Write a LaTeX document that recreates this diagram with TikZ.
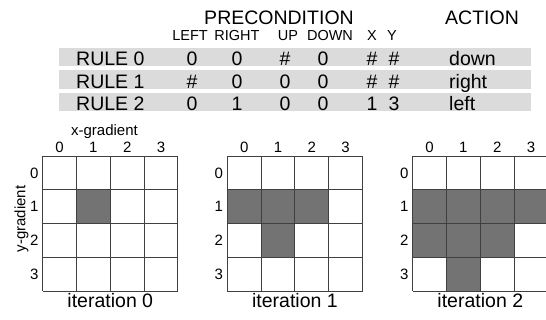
\documentclass[tikz,border=0pt]{standalone}
\usepackage{fontspec}
\setmainfont{Liberation Sans}
\begin{document}
\begin{tikzpicture}[x=1pt,y=-1pt,
  band/.style={fill=black!14},
  big/.style={inner sep=0pt,anchor=base,font=\fontsize{19.5}{21}\selectfont},
  sub/.style={inner sep=0pt,anchor=base,font=\fontsize{14.5}{16}\selectfont},
  lab/.style={inner sep=0pt,font=\fontsize{15}{17}\selectfont},
  iter/.style={inner sep=0pt,anchor=base,font=\fontsize{19.5}{21}\selectfont},
  cellfill/.style={fill=black!55},
  gline/.style={draw=black!75,line width=0.9pt}]
\useasboundingbox (0,0) rectangle (546,320);
% header
\node[big] (pre) at (279,25) {PRECONDITION};
\node[big] (act) at (482,25) {ACTION};
\node[sub] (hl) at (190,40.7) {LEFT};
\node[sub] (hr) at (237,40.7) {RIGHT};
\node[sub] (hu) at (288,40.7) {UP};
\node[sub] (hd) at (330,40.7) {DOWN};
\node[sub] (hx) at (372,40.7) {X};
\node[sub] (hy) at (392,40.7) {Y};
% bands
\foreach \i in {0,1,2}{
  \fill[band] (59,{48+22.3*\i}) rectangle (531,{66.5+22.3*\i});
}
% rows
\foreach \i/\a/\b/\c/\d/\x/\y/\act in {0/0/0/\#/0/\#/\#/down,1/\#/0/0/0/\#/\#/right,2/0/1/0/0/1/3/left}{
  \node[big,anchor=base west] (r\i) at (76,{66+22.2*\i}) {RULE \i};
  \node[big] (r\i a) at (192,{66+22.2*\i}) {\a};
  \node[big] (r\i b) at (237,{66+22.2*\i}) {\b};
  \node[big] (r\i c) at (285,{66+22.2*\i}) {\c};
  \node[big] (r\i d) at (323,{66+22.2*\i}) {\d};
  \node[big] (r\i x) at (372,{66+22.2*\i}) {\x};
  \node[big] (r\i y) at (394,{66+22.2*\i}) {\y};
  \node[big,anchor=base west] (r\i act) at (449,{66+22.2*\i}) {\act};
}
% grids
\def\cs{33.8}
\foreach \g/\L in {0/42.7,1/227.3,2/412.7}{
  \foreach \k in {0,1,2,3}{
    \node[lab,anchor=base] (g\g c\k) at ({\L+\cs*(\k+0.5)},153) {\k};
    \node[lab] (g\g r\k) at ({\L-8.5},{156+\cs*(\k+0.5)}) {\k};
  }
  \node[iter] (it\g) at ({\L+2*\cs},308) {iteration \g};
}
% filled cells
\foreach \g/\L/\cells in {0/42.7/{1/1},1/227.3/{0/1,1/1,2/1,1/2},2/412.7/{0/1,1/1,2/1,3/1,0/2,1/2,2/2,1/3}}{
  \foreach \cx/\cy in \cells{
    \fill[cellfill] ({\L+\cs*\cx},{156+\cs*\cy}) rectangle ({\L+\cs*(\cx+1)},{156+\cs*(\cy+1)});
  }
  \foreach \k in {0,1,2,3,4}{
    \draw[gline] ({\L+\cs*\k},156) -- ({\L+\cs*\k},{156+4*\cs});
    \draw[gline] (\L,{156+\cs*\k}) -- ({\L+4*\cs},{156+\cs*\k});
  }
}
\node[lab,anchor=base] (xg) at (104.5,135.7) {x-gradient};
\node[lab,rotate=90] (yg) at (21.5,219) {y-gradient};
\end{tikzpicture}
\end{document}
